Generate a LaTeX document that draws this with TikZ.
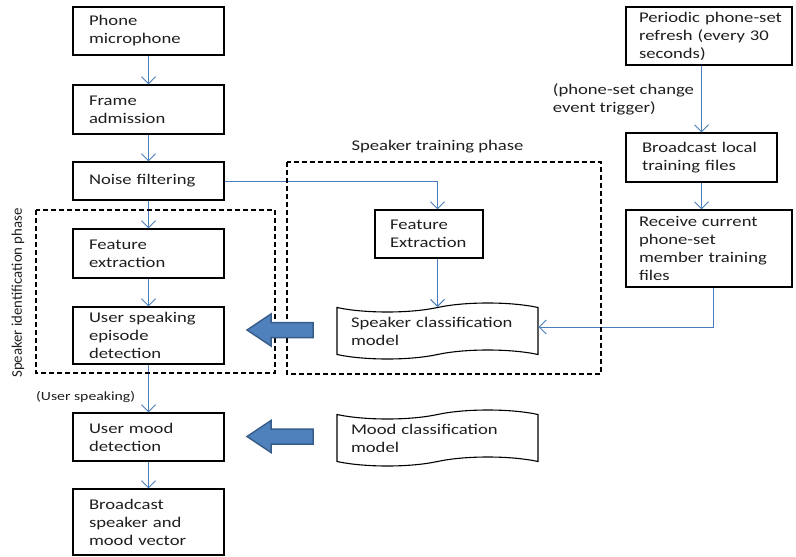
\documentclass[tikz,border=0pt]{standalone}
\usepackage{fontspec}
\setmainfont{Carlito}[FakeStretch=1.26]
\newfontfamily\sidefont{Carlito}
\usetikzlibrary{arrows.meta, shapes.symbols}
\definecolor{clink}{HTML}{4A7EBB}
\definecolor{cfill}{HTML}{4F81BD}
\definecolor{cedge}{HTML}{385D8A}
\definecolor{ctext}{HTML}{1E1E1E}
\tikzset{
  every picture/.style={font=\fontsize{14.8}{18}\selectfont, line width=1.1pt},
  box/.style={draw=black, rectangle, align=left, text=ctext, inner xsep=16pt, inner ysep=0pt, text width=#1},
  box/.default=119pt,
  model/.style={draw=black, tape, tape bend top=in and out, tape bend bottom=in and out, tape bend height=9pt,
    align=left, text=ctext, inner xsep=14pt, inner ysep=0pt, text width=173pt, minimum height=56pt},
  arrow/.style={-{Straight Barb[length=7pt, width=14pt]}, draw=clink, line width=1pt},
  phase/.style={draw=black, dash pattern=on 5pt off 3pt, line width=1.2pt},
  bigarrow/.style={fill=cfill, draw=cedge, line width=1.5pt},
  note/.style={text=ctext, align=left},
  small/.style={text=ctext, font=\fontsize{12.5}{15}\selectfont},
}

\begin{document}
\begin{tikzpicture}[x=1pt, y=-1pt]
  \useasboundingbox (0,0) rectangle (796,557);
  % left column
  \node[box, minimum height=48pt] (mic) at (148.5,31) {Phone\\microphone};
  \node[box, minimum height=49pt] (frame) at (148.5,109.5) {Frame\\admission};
  \node[box, minimum height=38pt] (noise) at (148.5,181) {Noise filtering};
  \node[box, minimum height=49pt] (featL) at (148.5,253.5) {Feature\\extraction};
  \node[box, minimum height=57pt] (episode) at (148.5,335.5) {User speaking\\episode\\detection};
  \node[box, minimum height=48pt] (mood) at (148.5,437) {User mood\\detection};
  \node[box, minimum height=66pt] (bcast) at (148.5,522) {Broadcast\\speaker and\\mood vector};
  \foreach \a/\b in {mic/frame, frame/noise, noise/featL, featL/episode, episode/mood, mood/bcast}
    \draw[arrow] (\a) -- (\b);
  \node[small, anchor=east] (speaking) at (139,397) {(User speaking)};

  % training phase
  \node[box=78pt, inner xsep=15pt, minimum height=48pt] (featR) at (429,234) {Feature\\Extraction};
  \node[model] (spkmodel) at (437.5,331) {Speaker classification\\model};
  \node[model] (moodmodel) at (437.5,438) {Mood classification\\model};
  \draw[arrow] (noise) -| (spkmodel.north |- featR.north);
  \draw[arrow] (spkmodel.north |- featR.south) -- (spkmodel.north);

  % phone-set refresh
  \node[box=140pt, inner xsep=13pt, minimum height=58pt] (refresh) at (709,36) {\mbox{Periodic phone-set}\\refresh (every 30\\seconds)};
  \node[box, minimum height=49pt] (bclocal) at (701.5,157.5) {Broadcast local\\training files};
  \node[box=140pt, inner xsep=13pt, minimum height=77pt] (receive) at (709,248.5) {Receive current\\phone-set\\member training\\files};
  \draw[arrow] (bclocal.north |- refresh.south) -- node[note, left, inner xsep=7pt] (trigger) {(phone-set change\\event trigger)} (bclocal);
  \draw[arrow] (bclocal) -- (bclocal |- receive.north);
  \draw[arrow] ([xshift=4pt]receive.south) |- ([yshift=4pt]spkmodel.east);

  % phases
  \draw[phase] (36,210) rectangle (275,373);
  \draw[phase] (287,162) rectangle (601,374);
  \node[note] (trainlbl) at (437.5,147) {Speaker training phase};
  \node[note, rotate=90, font=\sidefont\fontsize{14.8}{18}\selectfont] (identlbl) at (18,293) {Speaker identification phase};

  \foreach \yc in {330,436.5}
    \draw[bigarrow] (313,\yc-7.5) -- (271,\yc-7.5) -- (271,\yc-16) -- (247,\yc) -- (271,\yc+16) -- (271,\yc+7.5) -- (313,\yc+7.5) -- cycle;
\end{tikzpicture}
\end{document}
